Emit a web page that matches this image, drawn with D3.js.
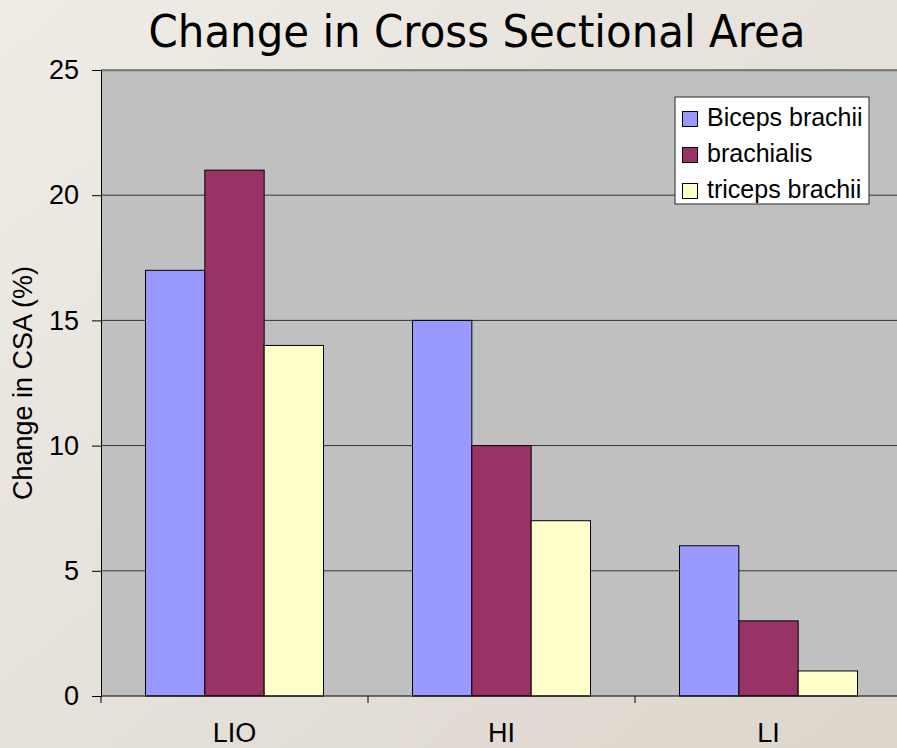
<!DOCTYPE html>
<html><head><meta charset="utf-8">
<script src="https://cdn.jsdelivr.net/npm/d3@7"></script>
<style>html,body{margin:0;padding:0;overflow:hidden;}</style>
</head><body>
<script>
const categories = ["LIO", "HI", "LI"];
const seriesNames = ["Biceps brachii", "brachialis", "triceps brachii"];
const biceps = [17, 15, 6];
const brachialis = [21, 10, 3];
const triceps = [14, 7, 1];
const yTicks = [0, 5, 10, 15, 20, 25];
const colors = ["#9999ff", "#993366", "#ffffcc"];
const seriesValues = [biceps, brachialis, triceps];

const W = 897, H = 748;
const FONT = "Liberation Sans, Arial, sans-serif";
const svg = d3.select("body").append("svg").attr("width", W).attr("height", H);
const defs = svg.append("defs");
const g1 = defs.append("linearGradient").attr("id","bg").attr("x1","0").attr("y1","0").attr("x2","1").attr("y2","1");
g1.append("stop").attr("offset","0").attr("stop-color","#efece6");
g1.append("stop").attr("offset","0.5").attr("stop-color","#e6e1da");
g1.append("stop").attr("offset","1").attr("stop-color","#dcd6cc");
svg.append("rect").attr("width",W).attr("height",H).attr("fill","url(#bg)");

const L = 101, T = 70, B = 696, R = 902;
const x = d3.scaleBand().domain(categories).range([L, R]);
const inner = d3.scaleBand().domain(d3.range(seriesNames.length)).range([0, x.bandwidth()]).paddingInner(0).paddingOuter(0.75);
const y = d3.scaleLinear().domain([0, 25]).range([B, T]);

svg.append("rect").attr("x", L).attr("y", T).attr("width", R - L).attr("height", B - T).attr("fill", "#c0c0c0");

// gridlines
svg.append("g").selectAll("line").data(yTicks.filter(d => d > 0)).join("line")
  .attr("x1", L).attr("x2", R).attr("y1", d => y(d)).attr("y2", d => y(d))
  .attr("stroke", "#333").attr("stroke-width", 1);
svg.append("line").attr("x1", L).attr("x2", R).attr("y1", T+0.5).attr("y2", T+0.5).attr("stroke","#777").attr("stroke-width",1.5);

// bars
seriesValues.forEach((vals, si) => {
  svg.append("g").selectAll("rect").data(categories).join("rect")
    .attr("x", (c) => x(c) + inner(si))
    .attr("width", inner.bandwidth())
    .attr("y", (c, i) => y(vals[i]))
    .attr("height", (c, i) => y(0) - y(vals[i]))
    .attr("fill", colors[si]).attr("stroke", "#000").attr("stroke-width", 1);
});

// y axis
const yAxis = svg.append("g").attr("transform", `translate(${L},0)`)
  .call(d3.axisLeft(y).tickValues(yTicks).tickSize(9).tickPadding(13));
yAxis.select(".domain").attr("stroke","#000");
yAxis.selectAll(".tick line").attr("stroke","#000");
yAxis.selectAll("text").attr("font-family",FONT).attr("font-size",27).attr("fill","#000");

// x axis
const xAxis = svg.append("g").attr("transform", `translate(0,${B})`);
xAxis.append("line").attr("x1", L).attr("x2", R).attr("y1", 0).attr("y2", 0).attr("stroke", "#000");
const bounds = categories.map(c => x(c)).concat([R]);
xAxis.selectAll("line.t").data(bounds).join("line").attr("class","t")
  .attr("x1", d => d).attr("x2", d => d).attr("y1", 0).attr("y2", 7).attr("stroke", "#000");
xAxis.selectAll("text").data(categories).join("text")
  .attr("x", c => x(c) + x.bandwidth()/2).attr("y", 46)
  .attr("text-anchor","middle").attr("font-family",FONT)
  .attr("font-size",27).attr("fill","#000").text(c => c);

// y title
svg.append("text").attr("transform", `translate(32,383) rotate(-90)`)
  .attr("text-anchor","middle").attr("font-family",FONT)
  .attr("font-size",27).attr("fill","#000").text("Change in CSA (%)");

// title
svg.append("text").attr("x", 477).attr("y", 47).attr("text-anchor","middle")
  .attr("font-family","DejaVu Sans, sans-serif").attr("font-size",44).attr("fill","#000")
  .attr("textLength", 657).attr("lengthAdjust","spacingAndGlyphs")
  .text("Change in Cross Sectional Area");

// legend
const lg = svg.append("g").attr("transform","translate(675,97)");
lg.append("rect").attr("x",0).attr("y",0).attr("width",194).attr("height",107)
  .attr("fill","#fff").attr("stroke","#444").attr("stroke-width",1.2);
seriesNames.forEach((n, i) => {
  const yy = 14 + i * 36;
  lg.append("rect").attr("x",7.5).attr("y",yy+0.5).attr("width",15).attr("height",15)
    .attr("fill",colors[i]).attr("stroke","#000").attr("stroke-width",1);
  lg.append("text").attr("x",32).attr("y",yy+15).attr("font-family",FONT)
    .attr("font-size",25).attr("fill","#000").text(n);
});
</script>
</body></html>
